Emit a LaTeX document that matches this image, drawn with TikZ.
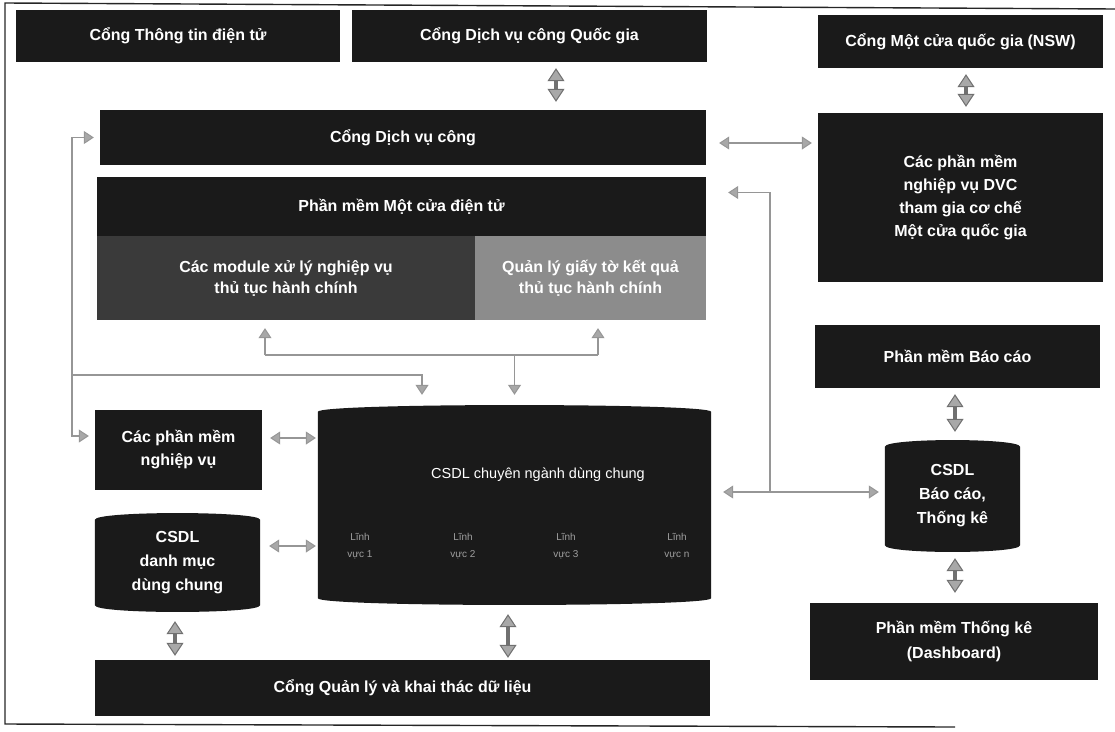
\documentclass[tikz,border=0pt]{standalone}
\usepackage{fontspec}
\setmainfont{Liberation Sans}
\usetikzlibrary{arrows.meta,backgrounds}
\definecolor{boxc}{HTML}{1A1A1A}
\definecolor{modc}{HTML}{3A3A3A}
\definecolor{gtoc}{HTML}{8C8C8C}
\definecolor{linec}{HTML}{969696}
\definecolor{fatc}{HTML}{A8A8A8}
\definecolor{fatedge}{HTML}{707070}
% cylinder outline drawn behind a named rectangular node
\newcommand\dbshape[1]{%
  \fill[boxc] ([yshift=-7pt]#1.north west)
    .. controls ([yshift=2pt]#1.north west) and ([yshift=2pt]#1.north east) .. ([yshift=-7pt]#1.north east)
    -- ([yshift=7pt]#1.south east)
    .. controls ([yshift=-2pt]#1.south east) and ([yshift=-2pt]#1.south west) .. ([yshift=7pt]#1.south west)
    -- cycle;}
\tikzset{
  box/.style={fill=boxc, text=white, inner sep=0pt, align=center,
    font=\bfseries\fontsize{16}{23}\selectfont},
  dbnode/.style={inner sep=0pt, text=white, align=center,
    font=\bfseries\fontsize{16}{24}\selectfont},
  conn/.style={draw=linec, line width=1.2pt,
    >={Triangle[length=10pt,width=13pt,line width=1pt,fill=fatc]}},
  fat/.style={draw=fatedge, line width=4pt,
    {Triangle[length=13pt,width=17pt,line width=1pt,fill=fatc]}-{Triangle[length=13pt,width=17pt,line width=1pt,fill=fatc]}},
  lv/.style={text=gray!75, font=\fontsize{10}{17}\selectfont, align=center, inner sep=0pt},
  frame/.style={draw=black!85, line width=1.4pt}
}
\begin{document}
\begin{tikzpicture}[x=1pt,y=-1pt]
\useasboundingbox (0,0) rectangle (1115,731);

% outer frame (top, left, bottom)
\draw[frame] (1115,9) -- (5,3) -- (5,724) -- (955,727);

% top row of portals
\node[box, minimum width=324pt, minimum height=52pt] (ttdt) at (178,36) {Cổng Thông tin điện tử};
\node[box, minimum width=355pt, minimum height=52pt] (dvcqg) at (529.5,36) {Cổng Dịch vụ công Quốc gia};
\node[box, minimum width=285pt, minimum height=53pt] (nsw) at (960.5,41.5) {Cổng Một cửa quốc gia (NSW)};

% public service portal and one-stop software
\node[box, minimum width=606pt, minimum height=55pt] (dvc) at (403,137.5) {Cổng Dịch vụ công};
\node[box, minimum width=609pt, minimum height=59pt] (mct) at (401.5,206.5) {Phần mềm Một cửa điện tử};
\node[box, fill=modc, minimum width=378pt, minimum height=84pt, font=\bfseries\fontsize{16}{21}\selectfont] (mod) at (286,278) {Các module xử lý nghiệp vụ\\thủ tục hành chính};
\node[box, fill=gtoc, minimum width=231pt, minimum height=84pt, font=\bfseries\fontsize{16}{21}\selectfont] (gto) at (590.5,278) {Quản lý giấy tờ kết quả\\thủ tục hành chính};

% right column
\node[box, minimum width=285pt, minimum height=169pt] (nswsw) at (960.5,197.5) {Các phần mềm\\nghiệp vụ DVC\\tham gia cơ chế\\Một cửa quốc gia};
\node[box, minimum width=285pt, minimum height=63pt] (bc) at (957.5,356.5) {Phần mềm Báo cáo};
\node[dbnode, minimum width=135pt, minimum height=112pt] (csdlbc) at (952.5,496) {CSDL\\Báo cáo,\\Thống kê};
\node[box, minimum width=288pt, minimum height=77pt, font=\bfseries\fontsize{16}{25}\selectfont] (tk) at (954,641.5) {Phần mềm Thống kê\\(Dashboard)};

% left column and shared database
\node[box, minimum width=167pt, minimum height=80pt] (pmnv) at (178.5,450) {Các phần mềm\\nghiệp vụ};
\node[dbnode, minimum width=165pt, minimum height=99pt] (csdldm) at (177.5,562.5) {CSDL\\danh mục\\dùng chung};
\node[inner sep=0pt, minimum width=393pt, minimum height=200pt] (csdlcn) at (514.5,505) {};
\node[box, minimum width=615pt, minimum height=56pt] (qlkt) at (402.5,688) {Cổng Quản lý và khai thác dữ liệu};

\begin{scope}[on background layer]
  \dbshape{csdlbc}
  \dbshape{csdldm}
  \dbshape{csdlcn}
\end{scope}

\node[text=white, font=\fontsize{14.5}{16}\selectfont, inner sep=0pt] (cnlabel) at (538,475) {CSDL chuyên ngành dùng chung};
\node[lv] (lv1) at (360,546) {Lĩnh\\vực 1};
\node[lv] (lv2) at (463,546) {Lĩnh\\vực 2};
\node[lv] (lv3) at (566,546) {Lĩnh\\vực 3};
\node[lv] (lvn) at (677,546) {Lĩnh\\vực n};

% junction points of the thin connectors
\coordinate (jr) at (770,492);
\coordinate (jl) at (72,375);
\coordinate (bl) at (265,355);
\coordinate (br) at (598,355);
\coordinate (bm) at (514.5,355);

% fat double arrows
\draw[fat, shorten <=6pt, shorten >=8pt] (dvcqg.south -| 556,0) -- (dvc.north -| 556,0);
\draw[fat, shorten <=6pt, shorten >=6pt] (nsw.south -| 966,0) -- (nswsw.north -| 966,0);
\draw[fat, shorten <=6pt, shorten >=8pt] (bc.south -| 955,0) -- (csdlbc.north -| 955,0);
\draw[fat, shorten <=6pt, shorten >=10pt] (csdlbc.south -| 955,0) -- (tk.north -| 955,0);
\draw[fat, shorten <=9pt, shorten >=4pt] (csdldm.south -| 175,0) -- (qlkt.north -| 175,0);
\draw[fat, shorten <=9pt, shorten >=2pt] (csdlcn.south -| 508,0) -- (qlkt.north -| 508,0);

% thin connectors
\draw[conn, <->, shorten <=13pt, shorten >=6pt] (dvc.east |- 0,143) -- (nswsw.west |- 0,143);
\draw[conn, <-, shorten <=22pt] ([yshift=14pt]mct.east) -- ([yshift=14pt]mct.east -| jr) -- (jr);
\draw[conn, <->, shorten <=12pt, shorten >=6pt] (csdlcn.east |- jr) -- (csdlbc.west |- jr);

\draw[conn, <->, shorten <=6pt, shorten >=6pt] (dvc.west) -| (jl) |- (pmnv.west |- 0,436);
\draw[conn, ->, shorten >=10pt] (jl) -| (csdlcn.north -| 422,0);

\draw[conn, ->, shorten >=8pt] (bl) -- (bl |- mod.south);
\draw[conn, ->, shorten >=8pt] (br) -- (br |- gto.south);
\draw[conn] (bl) -- (br);
\draw[conn, ->, shorten >=10pt] (bm) -- (csdlcn.north);

\draw[conn, <->, shorten <=8pt, shorten >=2pt] (pmnv.east |- 0,438) -- (csdlcn.west |- 0,438);
\draw[conn, <->, shorten <=9pt, shorten >=2pt] (csdldm.east |- 0,546) -- (csdlcn.west |- 0,546);
\end{tikzpicture}
\end{document}
